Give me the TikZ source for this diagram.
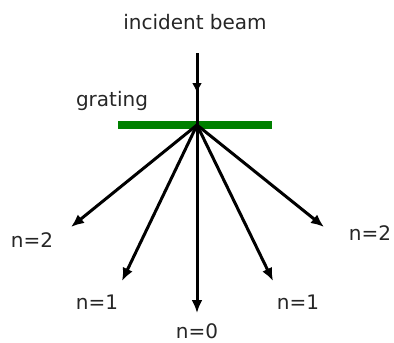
\documentclass[tikz,border=0pt]{standalone}
\usepackage{fontspec}
\setmainfont{DejaVu Sans}
\usepackage{tikz}
\usetikzlibrary{arrows.meta,positioning}

\begin{document}
\begin{tikzpicture}[
  x=1pt, y=-1pt,
  beam/.style={line width=3pt, -{Latex[length=13pt,width=11pt]}},
  inbeam/.style={line width=3pt, -{Latex[length=10pt,width=10pt]}},
  plain/.style={line width=3pt},
  grate/.style={line width=8pt, draw={rgb,255:red,0;green,128;blue,0}},
  lbl/.style={font=\fontsize{20}{22}\selectfont, text=black!85, inner sep=0pt}
]
\useasboundingbox (0,0) rectangle (394,343);
% grating and incident beam
\coordinate (o) at (197,125);
\coordinate (src) at (197,53);
\coordinate (mid) at (197,93);
\coordinate (gl) at (118,125);
\coordinate (gr) at (272,125);
\draw[grate] (gl) -- (gr);
\draw[plain] (src) -- (o);
\draw[inbeam] (src) -- (mid);
\node[lbl] (inc) at (195,22) {incident beam};
\node[lbl] (grat) at (112,101) {grating};
% diffracted orders
\coordinate (l2) at (71,227);
\coordinate (l1) at (122,281);
\coordinate (c0) at (197,313);
\coordinate (r1) at (273,281);
\coordinate (r2) at (324,227);
\foreach \e in {l2,l1,c0,r1,r2}
  \draw[beam] (o) -- (\e);
\node[lbl] (nl2) at (32,240) {n=2};
\node[lbl] (nl1) at (97,302) {n=1};
\node[lbl] (n0) at (197,331) {n=0};
\node[lbl] (nr1) at (298,302) {n=1};
\node[lbl] (nr2) at (370,233) {n=2};
\end{tikzpicture}
\end{document}
